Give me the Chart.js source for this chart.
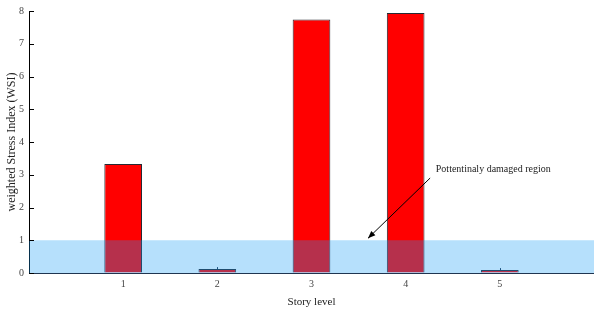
<!DOCTYPE html>
<html><head><meta charset="utf-8">
<script src="https://cdn.jsdelivr.net/npm/chart.js@4/dist/chart.umd.min.js"></script>
<style>html,body{margin:0;padding:0;background:#fff}#wrap{width:594px;height:309px}</style>
</head><body><div id="wrap"><canvas id="c" width="594" height="309"></canvas></div>
<script>
const storyLevels = [1, 2, 3, 4, 5];
const wsiValues = [3.33, 0.12, 7.74, 7.94, 0.09];
const wsiErrors = [0, 0.06, 0, 0, 0.06];
const xTickLabels = [1, 2, 3, 4, 5];
const yTickLabels = [0, 1, 2, 3, 4, 5, 6, 7, 8];
const regionLimit = [0, 1];
const annotationText = 'Pottentinaly damaged region';
const annotationArrow = [4.26, 2.9, 3.6, 1.06];
const annotationTextPos = [4.32, 3.17];

const FONT = '"Liberation Serif", "Times New Roman", serif';

const overlay = {
  id: 'overlay',
  afterDatasetsDraw(chart) {
    const {ctx, chartArea: a, scales: {x, y}} = chart;
    ctx.save();
    ctx.strokeStyle = '#1f3550';
    ctx.lineWidth = 1;
    storyLevels.forEach((s, i) => {
      if (wsiErrors[i] > 0) {
        const px = Math.round(x.getPixelForValue(s)) + 0.5;
        ctx.beginPath();
        ctx.moveTo(px, y.getPixelForValue(wsiValues[i]));
        ctx.lineTo(px, y.getPixelForValue(wsiValues[i] + wsiErrors[i]));
        ctx.stroke();
      }
    });
    const y0 = y.getPixelForValue(regionLimit[0]);
    const y1 = y.getPixelForValue(regionLimit[1]);
    ctx.fillStyle = 'rgba(20,155,245,0.31)';
    ctx.fillRect(a.left, y1, a.right - a.left, y0 - y1);
    ctx.strokeStyle = '#000';
    yTickLabels.forEach(v => {
      const py = Math.round(y.getPixelForValue(v)) + 0.5;
      ctx.beginPath();
      ctx.moveTo(a.left, py);
      ctx.lineTo(a.left + 5, py);
      ctx.stroke();
    });
    const sx = x.getPixelForValue(annotationArrow[0]);
    const sy = y.getPixelForValue(annotationArrow[1]);
    const ex = x.getPixelForValue(annotationArrow[2]);
    const ey = y.getPixelForValue(annotationArrow[3]);
    ctx.strokeStyle = '#000';
    ctx.fillStyle = '#000';
    ctx.lineWidth = 1;
    ctx.beginPath();
    ctx.moveTo(sx, sy);
    ctx.lineTo(ex, ey);
    ctx.stroke();
    const ang = Math.atan2(ey - sy, ex - sx);
    const L = 8, W = 0.38;
    ctx.beginPath();
    ctx.moveTo(ex, ey);
    ctx.lineTo(ex - L * Math.cos(ang - W), ey - L * Math.sin(ang - W));
    ctx.lineTo(ex - L * Math.cos(ang + W), ey - L * Math.sin(ang + W));
    ctx.closePath();
    ctx.fill();
    ctx.font = '10px ' + FONT;
    ctx.fillStyle = '#222';
    ctx.textBaseline = 'middle';
    ctx.textAlign = 'left';
    ctx.fillText(annotationText, x.getPixelForValue(annotationTextPos[0]), y.getPixelForValue(annotationTextPos[1]));
    ctx.restore();
  }
};

new Chart(document.getElementById('c'), {
  type: 'bar',
  data: {
    datasets: [{
      data: storyLevels.map((s, i) => ({x: s, y: wsiValues[i]})),
      backgroundColor: '#ff0000',
      borderColor: '#262a33',
      borderWidth: 1,
      borderSkipped: 'bottom',
      barPercentage: 0.4,
      categoryPercentage: 1
    }]
  },
  options: {
    responsive: false,
    animation: false,
    devicePixelRatio: 1,
    layout: {padding: {top: 3, right: 0, left: 5, bottom: 0}},
    plugins: {legend: {display: false}, tooltip: {enabled: false}},
    scales: {
      x: {
        type: 'linear', min: 0, max: 6, offset: false,
        afterBuildTicks: s => { s.ticks = xTickLabels.map(v => ({value: v})); },
        grid: {display: true, drawOnChartArea: false, drawTicks: false, offset: false},
        border: {display: true, color: '#1f3550', width: 1},
        ticks: {font: {family: FONT, size: 10}, color: '#444', padding: 5},
        title: {display: true, text: 'Story level', font: {family: FONT, size: 11}, color: '#222', padding: {top: 1, bottom: 0}},
        afterFit: s => { s.height = 36; }
      },
      y: {
        min: 0, max: 8,
        afterBuildTicks: s => { s.ticks = yTickLabels.map(v => ({value: v})); },
        grid: {display: true, drawOnChartArea: false, drawTicks: false},
        border: {display: true, color: '#000', width: 1},
        ticks: {font: {family: FONT, size: 10}, color: '#444', padding: 5},
        title: {display: true, text: 'weighted Stress Index (WSI)', font: {family: FONT, size: 12}, color: '#222', padding: {top: 0, bottom: 0}},
        afterFit: s => { s.width = 24; }
      }
    }
  },
  plugins: [overlay]
});
</script></body></html>
